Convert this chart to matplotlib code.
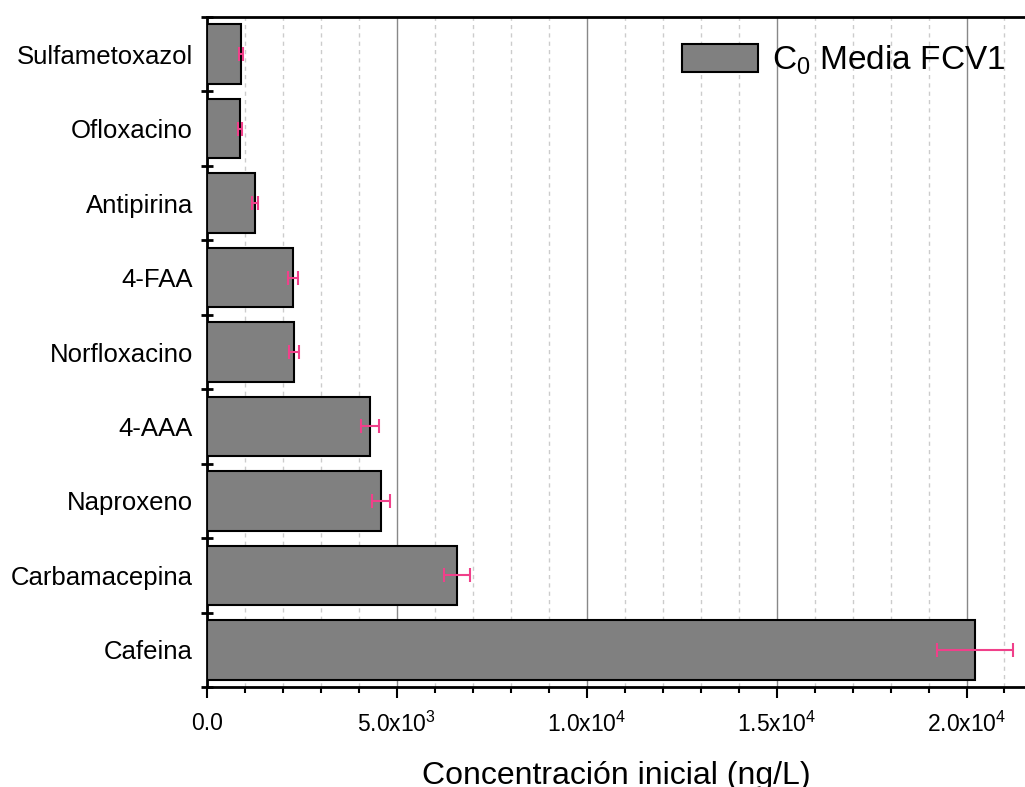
import matplotlib
matplotlib.use('Agg')
import matplotlib.pyplot as plt
import numpy as np
from matplotlib.ticker import MultipleLocator, FixedLocator

plt.rcParams['font.family'] = ['Liberation Sans', 'DejaVu Sans']
plt.rcParams['mathtext.default'] = 'regular'

# data (ng/L)
compounds = ['Sulfametoxazol', 'Ofloxacino', 'Antipirina', '4-FAA', 'Norfloxacino',
             '4-AAA', 'Naproxeno', 'Carbamacepina', 'Cafeina']
conc = [887, 869, 1273, 2273, 2291, 4301, 4573, 6583, 20224]
err = [50, 60, 80, 130, 130, 240, 240, 340, 1010]
xtick_vals = [0, 5000, 10000, 15000, 20000]
xtick_labels = ['0.0', '5.0x10$^3$', '1.0x10$^4$', '1.5x10$^4$', '2.0x10$^4$']

fig = plt.figure(figsize=(10.25, 7.87), dpi=100)
ax = fig.add_axes([207/1025, 1 - 687/787, 818/1025, 670/787])

y = np.arange(len(compounds))
ax.barh(y, conc, height=0.8, color='#808080', edgecolor='black', linewidth=1.5,
        label='C$_0$ Media FCV1', zorder=3)
ax.errorbar(conc, y, xerr=err, fmt='none', ecolor='#F0408A', elinewidth=1.5,
            capsize=5, capthick=1.5, zorder=4)

ax.set_ylim(-0.5, len(compounds) - 0.5)
ax.invert_yaxis()
ax.set_xlim(0, 21540)

# y: labels at bars, tick marks between bars
ax.set_yticks(y)
ax.set_yticklabels(compounds, fontsize=18.5)
ax.yaxis.set_minor_locator(FixedLocator(np.arange(-0.5, len(compounds), 1.0)))
ax.tick_params(axis='y', which='major', length=0, pad=10)
ax.tick_params(axis='y', which='minor', direction='inout', length=9, width=2)

# x axis
ax.set_xticks(xtick_vals)
ax.set_xticklabels(xtick_labels, fontsize=16.5)
ax.xaxis.set_minor_locator(MultipleLocator(1000))
ax.tick_params(axis='x', which='major', direction='out', length=8, width=1.5, pad=10)
ax.tick_params(axis='x', which='minor', direction='out', length=4, width=1.5)

ax.grid(axis='x', which='major', color='#888888', linewidth=1, zorder=0)
ax.grid(axis='x', which='minor', color='#cccccc', linestyle=(0, (3, 3)), linewidth=1, zorder=0)
ax.set_axisbelow(True)

for s in ['left', 'bottom', 'top']:
    ax.spines[s].set_linewidth(2)
ax.spines['right'].set_visible(False)

ax.set_xlabel('Concentración inicial (ng/L)', fontsize=23, labelpad=17)

leg = ax.legend(loc='upper right', bbox_to_anchor=(1.0, 0.99), fontsize=24, frameon=False,
                handlelength=2.3, handleheight=0.9, handletextpad=0.4, borderaxespad=0.2)

fig.savefig('out.png', dpi=100)
